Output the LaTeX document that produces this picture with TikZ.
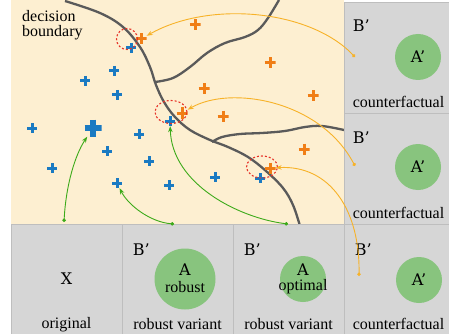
\documentclass[tikz,border=0pt]{standalone}
\usepackage{fontspec}
\setmainfont{Liberation Serif}
\newfontfamily\glyphfont{DejaVu Serif}
\usetikzlibrary{shapes.geometric, arrows.meta, positioning, calc}
\definecolor{cream}{RGB}{253, 239, 209}
\definecolor{panelgray}{RGB}{214, 214, 214}
\definecolor{panelline}{RGB}{190, 190, 190}
\definecolor{discgreen}{RGB}{136, 196, 126}
\definecolor{plusblue}{RGB}{26, 122, 194}
\definecolor{plusorange}{RGB}{240, 126, 22}
\definecolor{pushyellow}{RGB}{247, 178, 40}
\definecolor{pullgreen}{RGB}{60, 170, 25}
\definecolor{boundgray}{RGB}{90, 90, 90}
\definecolor{ringred}{RGB}{230, 50, 40}

\begin{document}
\begin{tikzpicture}[
    x=1pt, y=-1pt,
    panel/.style={rectangle, draw=panelline, fill=panelgray, line width=0.9pt, inner sep=0pt},
    disc/.style={circle, fill=discgreen, inner sep=0pt},
    tag/.style={font=\glyphfont\fontsize{16}{16}\selectfont, inner sep=0pt},
    caption/.style={font=\fontsize{16}{16}\selectfont, inner sep=0pt, anchor=base},
    crossmark/.style={rectangle, inner sep=0pt, minimum size=10pt, path picture={
        \draw[line width=3pt, #1] (path picture bounding box.north) -- (path picture bounding box.south)
            (path picture bounding box.west) -- (path picture bounding box.east);}},
    bplus/.style={crossmark=plusblue},
    oplus/.style={crossmark=plusorange, minimum size=11pt},
    bigplus/.style={crossmark={plusblue, line width=5.5pt}, minimum size=17pt},
    ring/.style={ellipse, draw=ringred, line width=1.1pt, dash pattern=on 2pt off 2pt, inner sep=0pt},
    boundary/.style={draw=boundgray, line width=2.3pt},
    push/.style={draw=pushyellow, line width=0.9pt, {Circle[length=3.5pt]}-{Stealth[length=6pt, width=4.5pt]}},
    pull/.style={draw=pullgreen, line width=0.9pt, {Circle[length=3.5pt]}-{Stealth[length=6pt, width=4.5pt]}}
]
    \useasboundingbox (0,0) rectangle (449,334);
    \fill[cream] (11,0) rectangle (344,224);

    % decision boundaries
    \draw[boundary] plot[smooth, tension=0.6] coordinates {(65,1) (100,13) (123,27) (140,47) (150,67) (156,85) (164,102) (175,117) (190,130) (210,140) (228,147) (248,157) (266,171) (283,188) (293,205) (300,226)};
    \draw[boundary] plot[smooth, tension=0.6] coordinates {(155,82) (173,78) (190,67) (207,53) (225,43) (245,37) (258,30) (268,18) (279,0)};
    \draw[boundary] plot[smooth, tension=0.6] coordinates {(212,142) (222,137) (240,134) (262,133) (285,131) (305,127) (322,126) (344,130)};

    \node[align=left, anchor=north west, inner sep=0pt, font=\fontsize{16}{15}\selectfont] (dtext) at (22,10.5) {decision\\boundary};

    % panels
    \node[panel, minimum width=105pt, minimum height=111pt] (cf1) at (396.5,57.5) {};
    \node[panel, minimum width=105pt, minimum height=111pt] (cf2) at (396.5,168.5) {};
    \node[panel, minimum width=111pt, minimum height=110pt] (orig) at (66.5,279) {};
    \node[panel, minimum width=111pt, minimum height=110pt] (rob) at (177.5,279) {};
    \node[panel, minimum width=111pt, minimum height=110pt] (opt) at (288.5,279) {};
    \node[panel, minimum width=105pt, minimum height=110pt] (cf3) at (396.5,279) {};

    \node[disc, minimum size=46pt] (dcf1) at (418,57) {};
    \node[disc, minimum size=46pt] (dcf2) at (418,167) {};
    \node[disc, minimum size=61pt] (drob) at (185,279) {};
    \node[disc, minimum size=46pt] (dopt) at (303,279) {};
    \node[disc, minimum size=46pt] (dcf3) at (419,280) {};

    \node[tag] at (dcf1) {A’};
    \node[tag] at (dcf2) {A’};
    \node[tag] at (dcf3) {A’};
    \node[tag] at (orig) {X};
    \node[tag] (arob) at (185,270) {A};
    \node[caption, anchor=center] at (185,287) {robust};
    \node[tag] (aopt) at (303,270) {A};
    \node[caption, anchor=center] at (303,287) {optimal};

    \node[tag, below right=18pt and 9pt of cf1.north west] (b1) {B’};
    \node[tag, below right=19pt and 9pt of cf2.north west] (b2) {B’};
    \node[tag, below right=20pt and 11pt of rob.north west] (b3) {B’};
    \node[tag, below right=20pt and 11pt of opt.north west] (b4) {B’};
    \node[tag, below right=20pt and 11pt of cf3.north west] (b5) {B’};

    \node[caption] at ($(cf1.south)+(2,-6)$) {counterfactual};
    \node[caption] at ($(cf2.south)+(2,-6)$) {counterfactual};
    \node[caption] at ($(cf3.south)+(2,-5)$) {counterfactual};
    \node[caption] at ($(orig.south)+(0,-6)$) {original};
    \node[caption] at ($(rob.south)+(0,-5)$) {robust variant};
    \node[caption] at ($(opt.south)+(0,-5)$) {robust variant};

    % data points
    \node[bplus] (p1) at (131,48) {};
    \node[bplus] (p2) at (114,71) {};
    \node[bplus] (p3) at (85,81) {};
    \node[bplus] (p4) at (117,95) {};
    \node[bplus] (p5) at (32,128) {};
    \node[bigplus] (px) at (93,128) {};
    \node[bplus] (p6) at (139,134) {};
    \node[bplus] (p7) at (170,121) {};
    \node[bplus] (p8) at (107,151) {};
    \node[bplus] (p9) at (149,161) {};
    \node[bplus] (p10) at (52,168) {};
    \node[bplus] (p11) at (117,183) {};
    \node[bplus] (p12) at (169,185) {};
    \node[bplus] (p13) at (215,177) {};
    \node[bplus] (p14) at (260,178) {};

    \node[oplus] (q1) at (141,39) {};
    \node[oplus] (q2) at (195,25) {};
    \node[oplus] (q3) at (270,63) {};
    \node[oplus] (q4) at (204,89) {};
    \node[oplus] (q5) at (313,96) {};
    \node[oplus] (q6) at (182,113) {};
    \node[oplus] (q7) at (223,116) {};
    \node[oplus] (q8) at (304,149) {};
    \node[oplus] (q9) at (270,168) {};

    \node[ring, minimum width=21pt, minimum height=21pt] (r1) at (127,39) {};
    \node[ring, minimum width=32pt, minimum height=23pt] (r2) at (171,112) {};
    \node[ring, minimum width=31pt, minimum height=22pt] (r3) at (262,167) {};

    % arrows
    \coordinate (s1) at (355,57);
    \coordinate (s2) at (355,166);
    \coordinate (s3) at (359,276);
    \coordinate (t1) at (64,222);
    \coordinate (t2) at (174,224);
    \coordinate (t3) at (288,224);

    \draw[push] (s1) .. controls (310,10) and (210,0) .. (q1);
    \draw[push] (s2) .. controls (320,100) and (230,85) .. (q6);
    \draw[push] (s3) .. controls (360,210) and (330,165) .. (q9);
    \draw[pull] (t1) .. controls (66,185) and (75,155) .. (px);
    \draw[pull] (t2) .. controls (150,222) and (128,205) .. (p11);
    \draw[pull] (t3) .. controls (240,218) and (172,185) .. (p7);
\end{tikzpicture}
\end{document}
